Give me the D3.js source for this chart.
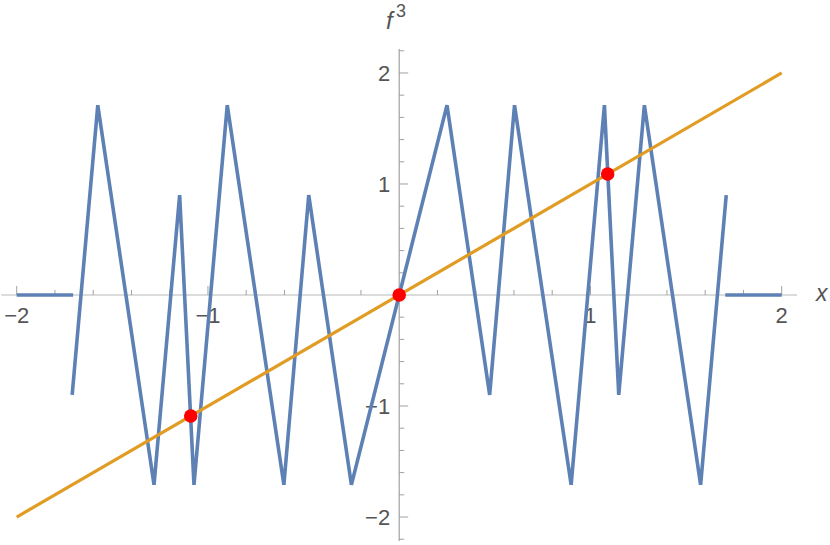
<!DOCTYPE html>
<html>
<head>
<meta charset="utf-8">
<script src="https://cdn.jsdelivr.net/npm/d3@7"></script>
<style>
  body { margin: 0; background: #fff; }
  svg { display: block; }
  text { font-family: "Liberation Sans", Arial, sans-serif; fill: #555; }
</style>
</head>
<body>
<svg id="chart" width="830" height="545"></svg>
<script>
// Third iterate f^3: piecewise linear, null marks a break in the curve
const curveX = [-2, -1.705, null, -1.71, -1.576, -1.282, -1.148, -1.073, -0.899, -0.603, -0.473, -0.25,
                0.25, 0.473, 0.603, 0.899, 1.073, 1.148, 1.282, 1.576, 1.71, null, 1.705, 2];
const curveY = [0, 0, null, -0.9, 1.71, -1.71, 0.9, -1.71, 1.71, -1.71, 0.9, -1.71,
                1.71, -0.9, 1.71, -1.71, 1.71, -0.9, 1.71, -1.71, 0.9, null, 0, 0];

// Diagonal y = x
const diagX = [-2, 2];
const diagY = [-2, 2];

// Fixed points
const pointX = [-1.09, 0, 1.09];
const pointY = [-1.09, 0, 1.09];

// Ticks
const majorTicks = [-2, -1, 1, 2];
const tickLabels = ["\u22122", "\u22121", "1", "2"];
const minorX = d3.range(-20, 21, 2).map(d => d / 10).filter(d => d !== 0 && !majorTicks.includes(d));
const minorY = d3.range(-22, 23, 2).map(d => d / 10).filter(d => d !== 0 && !majorTicks.includes(d));

const svg = d3.select("#chart");

const x = d3.scaleLinear().domain([-2.08, 2.08]).range([1.4, 797]);
const y = d3.scaleLinear().domain([-2.216, 2.216]).range([541, 49]);

const axisColor = "#b8b8b8";
const tickColor = "#a0a0a0";

// x axis
svg.append("line")
    .attr("x1", x(-2.08)).attr("x2", x(2.08))
    .attr("y1", y(0)).attr("y2", y(0))
    .attr("stroke", axisColor).attr("stroke-width", 1.2);

svg.selectAll(".xminor").data(minorX).join("line")
    .attr("x1", d => x(d)).attr("x2", d => x(d))
    .attr("y1", y(0)).attr("y2", y(0) - 5)
    .attr("stroke", tickColor).attr("stroke-width", 1);

svg.selectAll(".xmajor").data(majorTicks).join("line")
    .attr("x1", d => x(d)).attr("x2", d => x(d))
    .attr("y1", y(0)).attr("y2", y(0) - 9)
    .attr("stroke", tickColor).attr("stroke-width", 1);

svg.selectAll(".xlabel").data(majorTicks).join("text")
    .attr("x", d => x(d))
    .attr("y", y(0) + 28)
    .attr("text-anchor", "middle")
    .attr("font-size", 22)
    .text((d, i) => tickLabels[i]);

// y axis
svg.append("line")
    .attr("x1", x(0)).attr("x2", x(0))
    .attr("y1", y(-2.216)).attr("y2", y(2.216))
    .attr("stroke", tickColor).attr("stroke-width", 1.2);

svg.selectAll(".yminor").data(minorY).join("line")
    .attr("x1", x(0)).attr("x2", x(0) + 5)
    .attr("y1", d => y(d)).attr("y2", d => y(d))
    .attr("stroke", tickColor).attr("stroke-width", 1);

svg.selectAll(".ymajor").data(majorTicks).join("line")
    .attr("x1", x(0)).attr("x2", x(0) + 9)
    .attr("y1", d => y(d)).attr("y2", d => y(d))
    .attr("stroke", tickColor).attr("stroke-width", 1);

svg.selectAll(".ylabel").data(majorTicks).join("text")
    .attr("x", x(0) - 9)
    .attr("y", d => y(d))
    .attr("dy", "0.36em")
    .attr("text-anchor", "end")
    .attr("font-size", 22)
    .text((d, i) => tickLabels[i]);

// axis labels
svg.append("text")
    .attr("x", 816).attr("y", y(0) + 6)
    .attr("font-size", 23).attr("font-style", "italic")
    .text("x");

svg.append("text")
    .attr("x", 386).attr("y", 29)
    .attr("font-size", 24).attr("font-style", "italic")
    .text("f");
svg.append("text")
    .attr("x", 396).attr("y", 17)
    .attr("font-size", 18)
    .text("3");

// curve
const curve = curveX.map((d, i) => [d, curveY[i]]);
const line = d3.line()
    .defined(d => d[0] !== null && d[1] !== null)
    .x(d => x(d[0]))
    .y(d => y(d[1]));

svg.append("path")
    .datum(curve)
    .attr("d", line)
    .attr("fill", "none")
    .attr("stroke", "#5E81B5")
    .attr("stroke-width", 3.6);

// diagonal
svg.append("path")
    .datum(diagX.map((d, i) => [d, diagY[i]]))
    .attr("d", line)
    .attr("fill", "none")
    .attr("stroke", "#E19C24")
    .attr("stroke-width", 3.2);

// points
svg.selectAll(".pt").data(pointX).join("circle")
    .attr("cx", d => x(d))
    .attr("cy", (d, i) => y(pointY[i]))
    .attr("r", 6.8)
    .attr("fill", "#FF0000");
</script>
</body>
</html>
